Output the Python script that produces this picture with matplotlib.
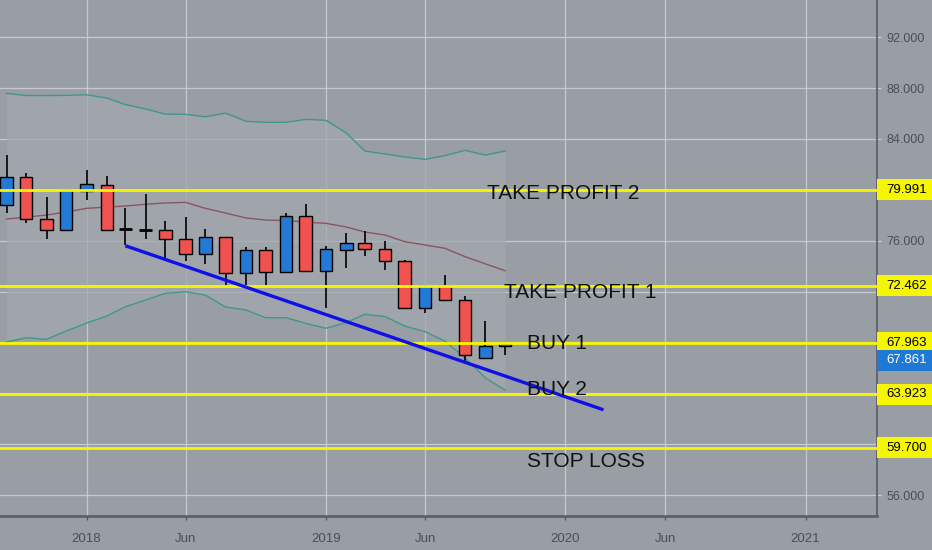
import numpy as np
import matplotlib
matplotlib.use("Agg")
import matplotlib.pyplot as plt
import matplotlib.dates as mdates
from matplotlib.patches import Rectangle
from matplotlib.transforms import blended_transform_factory, offset_copy

# monthly candles
months = ["2017-09-01", "2017-10-01", "2017-11-01", "2017-12-01",
          "2018-01-01", "2018-02-01", "2018-03-01", "2018-04-01", "2018-05-01", "2018-06-01",
          "2018-07-01", "2018-08-01", "2018-09-01", "2018-10-01", "2018-11-01", "2018-12-01",
          "2019-01-01", "2019-02-01", "2019-03-01", "2019-04-01", "2019-05-01", "2019-06-01",
          "2019-07-01", "2019-08-01", "2019-09-01", "2019-10-01"]
opens = [78.83, 81.03, 77.73, 76.83, 79.90, 80.40, 76.90, 76.86, 76.83, 76.10,
         74.97, 76.28, 73.42, 75.25, 73.52, 77.93, 73.60, 75.25, 75.83, 75.35,
         74.36, 70.72, 72.42, 71.32, 66.78, 67.69]
highs = [82.70, 81.35, 79.43, 80.09, 81.55, 81.08, 78.59, 79.64, 77.54, 77.88,
         76.88, 76.30, 75.50, 75.50, 78.14, 78.88, 75.57, 76.62, 76.75, 75.96,
         74.46, 72.53, 73.28, 71.63, 69.66, 67.96]
lows = [78.20, 77.35, 76.15, 76.80, 79.17, 76.80, 75.62, 76.15, 74.60, 74.39,
        74.13, 72.42, 72.42, 72.42, 73.50, 73.52, 70.72, 73.87, 74.78, 73.68,
        70.70, 70.32, 71.30, 66.52, 66.70, 67.04]
closes = [81.03, 77.73, 76.83, 79.95, 80.43, 76.83, 76.86, 76.88, 76.10, 74.97,
          76.28, 73.42, 75.25, 73.52, 77.93, 73.60, 75.31, 75.83, 75.35, 74.36,
          70.72, 72.42, 71.32, 67.04, 67.69, 67.86]

# bollinger bands
upper_band = [87.58, 87.41, 87.41, 87.42, 87.47, 87.21, 86.70, 86.35, 85.95, 85.93,
              85.74, 86.03, 85.38, 85.30, 85.30, 85.54, 85.46, 84.46, 83.05, 82.81,
              82.58, 82.39, 82.68, 83.10, 82.73, 83.05]
middle_band = [77.70, 77.85, 78.01, 78.25, 78.54, 78.64, 78.72, 78.86, 78.96, 79.01,
               78.54, 78.17, 77.78, 77.62, 77.58, 77.46, 77.36, 77.07, 76.68, 76.44,
               75.92, 75.66, 75.40, 74.74, 74.17, 73.64]
lower_band = [68.03, 68.37, 68.24, 68.89, 69.52, 70.07, 70.80, 71.33, 71.86, 71.98,
              71.72, 70.78, 70.55, 69.94, 69.94, 69.50, 69.11, 69.56, 70.21, 70.03,
              69.29, 68.84, 68.11, 66.77, 65.20, 64.26]

levels = [79.991, 72.462, 67.963, 63.923, 59.700]
level_names = ["TAKE PROFIT 2", "TAKE PROFIT 1", "BUY 1", "BUY 2", "STOP LOSS"]
name_dates = ["2019-09-04", "2019-09-30", "2019-11-03", "2019-11-03", "2019-11-03"]
name_prices = [79.74, 71.96, 67.95, 64.26, 58.60]

trend_dates = ["2018-03-01", "2020-02-28"]
trend_prices = [75.60, 62.70]

last_price = 67.861

tick_dates = ["2018-01-01", "2018-06-01", "2019-01-01", "2019-06-01",
              "2020-01-01", "2020-06-01", "2021-01-01"]
tick_labels = ["2018", "Jun", "2019", "Jun", "2020", "Jun", "2021"]
price_ticks = [56, 60, 64, 68, 72, 76, 80, 84, 88, 92]

BG = "#999da4"
RED = "#f0524f"
BLUE = "#2379d4"
YELLOW = "#f6f600"

plt.rcParams['font.family'] = ['Liberation Sans', 'DejaVu Sans']

fig = plt.figure(figsize=(9.32, 5.5), dpi=100, facecolor=BG)
ax = fig.add_axes([0, 34 / 550, 877 / 932, 516 / 550])
ax.set_facecolor(BG)

x = mdates.date2num(np.array(months, dtype="datetime64[D]"))

# bands
ax.fill_between(x, lower_band, upper_band, color="#a3a8ae", alpha=0.75, lw=0, zorder=1)
ax.plot(x, upper_band, color="#3f978f", lw=1, zorder=2)
ax.plot(x, lower_band, color="#3f978f", lw=1, zorder=2)
ax.plot(x, middle_band, color="#8a5560", lw=1, zorder=2)

# candles
w = 19
for xi, o, h, l, c in zip(x, opens, highs, lows, closes):
    ax.vlines(xi, l, h, color="black", lw=1.2, zorder=3)
    if abs(c - o) < 0.1:
        ax.hlines((o + c) / 2, xi - w / 2, xi + w / 2, color="black", lw=2, zorder=4)
        continue
    col = BLUE if c > o else RED
    ax.add_patch(Rectangle((xi - w / 2, min(o, c)), w, abs(c - o), facecolor=col,
                           edgecolor="black", lw=1, zorder=4))

# levels
for lev, name, nd, npr in zip(levels, level_names, name_dates, name_prices):
    ax.axhline(lev, color=YELLOW, lw=2, zorder=5)
    ax.text(mdates.date2num(np.datetime64(nd)), npr, name, fontsize=15,
            color="#111111", va="center", ha="left", zorder=7)

tx = mdates.date2num(np.array(trend_dates, dtype="datetime64[D]"))
ax.plot(tx, trend_prices, color="#1010e6", lw=2.4, zorder=6, solid_capstyle="butt")

# axes
ax.set_xlim(mdates.date2num(np.datetime64("2017-08-22")),
            mdates.date2num(np.datetime64("2021-04-20")))
ax.set_ylim(54.35, 94.92)
ax.set_xticks(mdates.date2num(np.array(tick_dates, dtype="datetime64[D]")))
ax.set_xticklabels(tick_labels)
box_h = 21 / 12.72
# labels hidden under the level boxes are left blank
ylabels = []
for p in price_ticks:
    hidden = any(abs(p - lev) < box_h for lev in levels + [last_price])
    ylabels.append("" if hidden else f"{p:.3f}")
ax.set_yticks(price_ticks)
ax.set_yticklabels(ylabels)
ax.yaxis.tick_right()
ax.tick_params(axis="x", colors="#4a4e55", labelsize=9.5, length=3, pad=9)
ax.tick_params(axis="y", colors="#d0d2d6", labelcolor="#4a4e55", labelsize=9, length=3, pad=3.5)
ax.grid(color="#cfd1d5", lw=0.9, alpha=0.85, zorder=0)
ax.set_axisbelow(True)
for s in ["top", "left"]:
    ax.spines[s].set_visible(False)
ax.spines["bottom"].set_color("#5d6168")
ax.spines["bottom"].set_linewidth(2)
ax.spines["right"].set_color("#5d6168")
ax.spines["right"].set_linewidth(1.3)

# price boxes on the right scale
trans = blended_transform_factory(fig.transFigure, ax.transData)
for lev in levels:
    fig.add_artist(Rectangle((877 / 932, lev - box_h / 2), 55 / 932, box_h,
                             transform=trans, facecolor=YELLOW, edgecolor="none",
                             clip_on=False, zorder=10))
    fig.text(886 / 932, lev, f"{lev:.3f}", transform=trans, fontsize=9.5,
             color="black", va="center", ha="left", zorder=11)

off = offset_copy(trans, fig=fig, y=-16, units="dots")
fig.add_artist(Rectangle((877 / 932, last_price - box_h / 2), 55 / 932, box_h,
                         transform=off, facecolor="#1e78d6", edgecolor="none",
                         clip_on=False, zorder=10))
fig.text(886 / 932, last_price, f"{last_price:.3f}", transform=off, fontsize=9.5,
         color="white", va="center", ha="left", zorder=11)

fig.savefig("out.png", dpi=100, facecolor=BG)
